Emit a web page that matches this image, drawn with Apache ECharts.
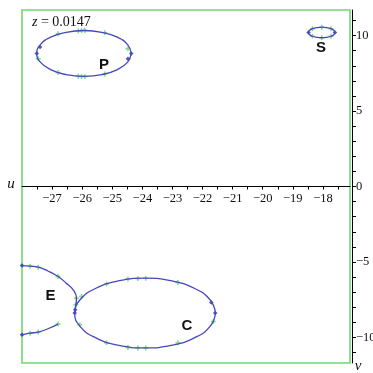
<!DOCTYPE html>
<html>
<head>
<meta charset="utf-8">
<script src="https://cdn.jsdelivr.net/npm/echarts@6/dist/echarts.min.js"></script>
<style>
  html, body { margin: 0; padding: 0; background: #ffffff; }
  #chart { width: 373px; height: 373px; }
</style>
</head>
<body>
<div id="chart"></div>
<script>
// Tick positions and labels on the u (horizontal) and v (vertical) axes
const uLabels = [-27, -26, -25, -24, -23, -22, -21, -20, -19, -18];
const uTickMarks = [-27.5, -27, -26.5, -26, -25.5, -25, -24.5, -24, -23.5, -23, -22.5, -22,
                    -21.5, -21, -20.5, -20, -19.5, -19, -18.5, -18, -17.5];
const vLabels = [-10, -5, 0, 5, 10];
const vTickMarks = [-11, -10, -9, -8, -7, -6, -5, -4, -3, -2, -1, 0, 1, 2, 3, 4, 5, 6, 7, 8, 9, 10, 11];

// Curve P (closed loop), [u, v]
const curveP = [
  [-24.37, 8.82], [-24.49, 9.40], [-24.83, 9.90], [-25.34, 10.22], [-25.94, 10.34],
  [-26.54, 10.22], [-27.05, 9.90], [-27.39, 9.40], [-27.51, 8.82], [-27.39, 8.24],
  [-27.05, 7.75], [-26.54, 7.42], [-25.94, 7.30], [-25.34, 7.42], [-24.83, 7.75],
  [-24.49, 8.24], [-24.37, 8.82]
];
// Curve S (closed loop)
const curveS = [
  [-17.60, 10.21], [-17.63, 10.34], [-17.73, 10.46], [-17.87, 10.53], [-18.04, 10.56],
  [-18.21, 10.53], [-18.35, 10.46], [-18.45, 10.34], [-18.48, 10.21], [-18.45, 10.08],
  [-18.35, 9.96], [-18.21, 9.89], [-18.04, 9.86], [-17.87, 9.89], [-17.73, 9.96],
  [-17.63, 10.08], [-17.60, 10.21]
];
// Curve C (closed loop)
const curveC = [
  [-21.57, -8.39], [-21.75, -7.51], [-22.26, -6.76], [-23.01, -6.26], [-23.91, -6.08],
  [-24.81, -6.26], [-25.56, -6.76], [-26.07, -7.51], [-26.25, -8.39], [-26.07, -9.27],
  [-25.56, -10.02], [-24.81, -10.52], [-23.91, -10.70], [-23.01, -10.52], [-22.26, -10.02],
  [-21.75, -9.27], [-21.57, -8.39]
];
// Curve E: upper branch and short lower piece
const curveEUpper = [
  [-28.00, -5.24], [-27.73, -5.28], [-27.46, -5.35], [-27.14, -5.60], [-26.80, -5.97],
  [-26.54, -6.39], [-26.30, -6.85], [-26.19, -7.40], [-26.21, -7.84], [-26.24, -8.30]
];
const curveELower = [
  [-28.00, -9.83], [-27.73, -9.72], [-27.46, -9.65], [-27.14, -9.43], [-26.80, -9.12]
];

// Computed sample points along the curves
const greenMarks = [
  [-26.80, 10.12], [-26.13, 10.33], [-26.02, 10.34], [-25.91, 10.34], [-25.25, 10.20],
  [-27.46, 8.47], [-24.48, 9.13], [-26.80, 7.55], [-26.13, 7.31], [-26.02, 7.30],
  [-25.91, 7.30], [-25.25, 7.45],
  [-17.73, 10.46], [-18.04, 10.56], [-18.35, 10.46], [-18.35, 9.96], [-18.04, 9.86], [-17.73, 9.96],
  [-25.19, -6.46], [-24.48, -6.14], [-24.15, -6.10], [-23.89, -6.08], [-22.82, -6.37],
  [-21.64, -8.95], [-22.82, -10.36], [-23.89, -10.70], [-24.15, -10.70], [-24.48, -10.67],
  [-25.19, -10.35], [-26.02, -7.29], [-26.08, -9.17],
  [-27.73, -5.28], [-27.46, -5.35], [-26.80, -5.97], [-26.19, -7.40], [-26.21, -7.84],
  [-27.73, -9.72], [-27.46, -9.65], [-26.80, -9.12]
];
const blueMarks = [
  [-27.40, 9.24], [-27.51, 8.82], [-24.37, 8.82], [-24.48, 8.47],
  [-17.60, 10.21], [-18.48, 10.21],
  [-21.71, -7.69], [-21.58, -8.39], [-26.25, -8.39],
  [-26.23, -8.17], [-28.00, -5.24], [-28.00, -9.83]
];

const curveColor = '#4747bd';
const serif = '"Liberation Serif", "DejaVu Serif", serif';
const sansBold = '"Liberation Sans", "Open Sans", sans-serif';
const plusMark = 'path://M-1,-0.3H-0.3V-1H0.3V-0.3H1V0.3H0.3V1H-0.3V0.3H-1Z';

// Plot area in pixels; the u axis crosses at v = 0, half way down
const gridTop = 10, gridBottom = 10, chartH = 373;
const vMin = -11.7, vMax = 11.7;
const plotH = chartH - gridTop - gridBottom;
const zeroShift = -plotH * (0 - vMin) / (vMax - vMin);

function curve(data) {
  return {
    type: 'line', data: data, smooth: 0.5, showSymbol: false, symbol: 'none',
    lineStyle: { color: curveColor, width: 1.3 }, silent: true
  };
}
function tag(text, x, y) {
  return {
    type: 'text', x: x, y: y,
    style: { text: text, font: 'bold 15px ' + sansBold, fill: '#111',
             align: 'center', verticalAlign: 'middle' }
  };
}

const chart = echarts.init(document.getElementById('chart'), null, { renderer: 'canvas' });
chart.setOption({
  animation: false,
  backgroundColor: '#ffffff',
  grid: {
    left: 22, right: 23, top: gridTop, bottom: gridBottom,
    containLabel: false, outerBoundsMode: 'none',
    show: true, borderColor: '#70d870', borderWidth: 1.6, backgroundColor: 'transparent'
  },
  xAxis: {
    type: 'value', min: -28, max: -17.1, position: 'bottom', offset: zeroShift,
    axisLine: { onZero: false, lineStyle: { color: '#000', width: 1 } },
    axisTick: { show: true, customValues: uTickMarks, length: 3, lineStyle: { color: '#000' } },
    axisLabel: {
      customValues: uLabels, margin: 6, color: '#111', fontFamily: serif, fontSize: 12.5,
      formatter: v => (v < 0 ? '\u2212' : '') + Math.abs(v)
    },
    splitLine: { show: false }
  },
  yAxis: {
    type: 'value', min: vMin, max: vMax, position: 'right', offset: 2,
    axisLine: { show: true, onZero: false, lineStyle: { color: '#000', width: 1 } },
    axisTick: { show: true, customValues: vTickMarks, length: 4, lineStyle: { color: '#000' } },
    axisLabel: {
      customValues: vLabels, margin: 4, color: '#111', fontFamily: serif, fontSize: 12.5,
      formatter: v => (v < 0 ? '\u2212' : '') + Math.abs(v)
    },
    splitLine: { show: false }
  },
  series: [
    curve(curveP), curve(curveS), curve(curveC), curve(curveEUpper), curve(curveELower),
    { type: 'scatter', data: greenMarks, symbol: plusMark, symbolSize: 5,
      itemStyle: { color: '#62d46c' }, silent: true },
    { type: 'scatter', data: blueMarks, symbol: 'diamond', symbolSize: 4.5,
      itemStyle: { color: '#2232a8' }, silent: true }
  ],
  graphic: [
    { type: 'text', x: 32, y: 22,
      style: { text: '{i|z} = 0.0147', font: '14px ' + serif, fill: '#111',
               align: 'left', verticalAlign: 'middle',
               rich: { i: { fontStyle: 'italic', fontFamily: serif, fontSize: 14 } } } },
    { type: 'text', x: 11, y: 184,
      style: { text: 'u', font: 'italic 15px ' + serif, fill: '#111', align: 'center', verticalAlign: 'middle' } },
    { type: 'text', x: 358, y: 366,
      style: { text: 'v', font: 'italic 15px ' + serif, fill: '#111', align: 'center', verticalAlign: 'middle' } },
    tag('P', 104, 65), tag('S', 321, 48), tag('E', 50.5, 296), tag('C', 187, 326)
  ]
});
</script>
</body>
</html>
